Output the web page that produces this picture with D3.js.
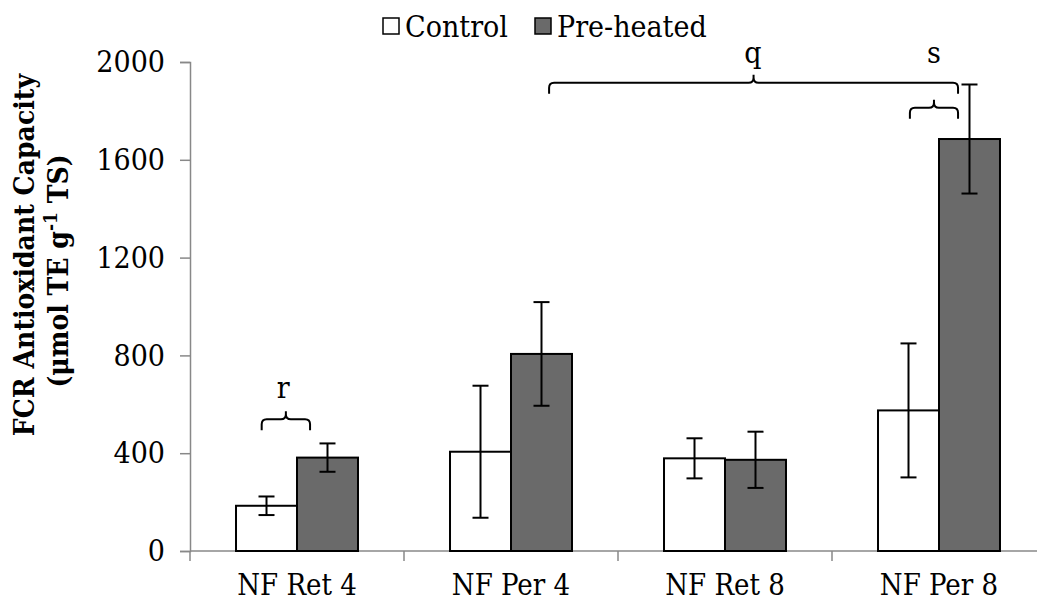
<!DOCTYPE html>
<html>
<head>
<meta charset="utf-8">
<script src="https://cdn.jsdelivr.net/npm/d3@7"></script>
<style>
  body { margin: 0; background: #fff; }
  text { font-family: "DejaVu Serif Condensed", "DejaVu Serif", serif; fill: #000; }
</style>
</head>
<body>
<svg id="chart"></svg>
<script>
// data
const categories = ["NF Ret 4", "NF Per 4", "NF Ret 8", "NF Per 8"];
const series = ["Control", "Pre-heated"];
const controlValues = [185, 406, 379, 575];
const controlErrors = [38, 270, 82, 274];
const preheatedValues = [382, 806, 373, 1685];
const preheatedErrors = [58, 212, 115, 223];
const yTicks = [0, 400, 800, 1200, 1600, 2000];
// significance brackets: x in category units, y in data units
const bracketLabels = ["r", "q", "s"];
const bracketFrom = [0.335, 1.678, 3.364];
const bracketTo = [0.561, 3.589, 3.589];
const bracketLevel = [539, 1915, 1813];

const width = 1037, height = 608;
const plotLeft = 190, plotBottom = 551, plotTop = 62;
const step = 214;
const fontSize = "30px";

const svg = d3.select("#chart").attr("width", width).attr("height", height);

const x0 = d3.scaleBand().domain(categories)
  .range([plotLeft, plotLeft + step * categories.length])
  .paddingInner(0.43).paddingOuter(0.215);
const x1 = d3.scaleBand().domain(series).range([0, x0.bandwidth()]);
const xPos = d3.scaleLinear().domain([0, categories.length]).range([plotLeft, plotLeft + step * categories.length]);
const y = d3.scaleLinear().domain([0, 2000]).range([plotBottom, plotTop]);

const colors = {"Control": "#ffffff", "Pre-heated": "#6a6a6a"};

let rows = [];
categories.forEach((c, i) => {
  rows.push({cat: c, s: "Control", v: controlValues[i], e: controlErrors[i]});
  rows.push({cat: c, s: "Pre-heated", v: preheatedValues[i], e: preheatedErrors[i]});
});

// axes
const yAxis = svg.append("g").attr("transform", `translate(${plotLeft},0)`)
  .call(d3.axisLeft(y).tickValues(yTicks).tickSize(10).tickPadding(15).tickFormat(d3.format("d")));
yAxis.select(".domain").attr("stroke", "#888").attr("stroke-width", 1.5);
yAxis.selectAll(".tick line").attr("stroke", "#888").attr("stroke-width", 1.5);
yAxis.selectAll(".tick text").style("font-size", fontSize)
  .style("font-family", "'DejaVu Serif Condensed', 'DejaVu Serif', serif");

svg.append("line")
  .attr("x1", plotLeft).attr("x2", width).attr("y1", plotBottom).attr("y2", plotBottom)
  .attr("stroke", "#888").attr("stroke-width", 1.5);
svg.selectAll(".xtick").data(d3.range(categories.length + 1)).enter().append("line")
  .attr("x1", d => xPos(d)).attr("x2", d => xPos(d))
  .attr("y1", plotBottom).attr("y2", plotBottom + 10)
  .attr("stroke", "#888").attr("stroke-width", 1.5);
svg.selectAll(".xlabel").data(categories).enter().append("text")
  .attr("x", d => x0(d) + x0.bandwidth() / 2)
  .attr("y", 595)
  .attr("text-anchor", "middle")
  .style("font-size", "29px")
  .text(d => d);

// bars
svg.selectAll(".bar").data(rows).enter().append("rect")
  .attr("x", d => x0(d.cat) + x1(d.s))
  .attr("y", d => y(d.v))
  .attr("width", x1.bandwidth())
  .attr("height", d => y(0) - y(d.v))
  .attr("fill", d => colors[d.s])
  .attr("stroke", "#000").attr("stroke-width", 2);

// error bars
let eb = svg.selectAll(".err").data(rows).enter().append("g");
eb.append("line")
  .attr("x1", d => x0(d.cat) + x1(d.s) + x1.bandwidth() / 2)
  .attr("x2", d => x0(d.cat) + x1(d.s) + x1.bandwidth() / 2)
  .attr("y1", d => y(d.v - d.e)).attr("y2", d => y(d.v + d.e));
[-1, 1].forEach(sign => {
  eb.append("line")
    .attr("x1", d => x0(d.cat) + x1(d.s) + x1.bandwidth() / 2 - 8)
    .attr("x2", d => x0(d.cat) + x1(d.s) + x1.bandwidth() / 2 + 8)
    .attr("y1", d => y(d.v + sign * d.e)).attr("y2", d => y(d.v + sign * d.e));
});
eb.selectAll("line").attr("stroke", "#000").attr("stroke-width", 2);

// brackets
bracketLabels.forEach((lab, i) => {
  const xa = xPos(bracketFrom[i]), xb = xPos(bracketTo[i]);
  const yy = y(bracketLevel[i]);
  const xm = (xa + xb) / 2;
  const r = 5;
  const p = d3.path();
  p.moveTo(xa, yy + 11);
  p.lineTo(xa, yy + r);
  p.quadraticCurveTo(xa, yy, xa + r, yy);
  p.lineTo(xm - r, yy);
  p.quadraticCurveTo(xm, yy, xm, yy - r);
  p.lineTo(xm, yy - 8);
  p.moveTo(xm, yy - r);
  p.quadraticCurveTo(xm, yy, xm + r, yy);
  p.lineTo(xb - r, yy);
  p.quadraticCurveTo(xb, yy, xb, yy + r);
  p.lineTo(xb, yy + 11);
  svg.append("path").attr("d", p.toString())
    .attr("fill", "none").attr("stroke", "#000").attr("stroke-width", 2);
});
svg.append("text").attr("x", xPos(0.435)).attr("y", 398).attr("text-anchor", "middle")
  .style("font-size", fontSize).text("r");
svg.append("text").attr("x", xPos(2.63)).attr("y", 63).attr("text-anchor", "middle")
  .style("font-size", fontSize).text("q");
svg.append("text").attr("x", xPos(3.476)).attr("y", 63).attr("text-anchor", "middle")
  .style("font-size", fontSize).text("s");

// y title
const yt = svg.append("text")
  .attr("transform", "translate(34,255) rotate(-90)")
  .attr("text-anchor", "middle")
  .style("font-size", "28px").style("font-weight", "bold");
yt.append("tspan").attr("x", 0).attr("dy", 0).text("FCR Antioxidant Capacity");
const l2 = yt.append("tspan").attr("x", -16).attr("dy", 34);
l2.text("(μmol TE g");
yt.append("tspan").attr("dy", -11).style("font-size", "19px").text("-1");
yt.append("tspan").attr("dy", 11).text(" TS)");

// legend
const legend = svg.append("g");
const legX = [383, 535];
series.forEach((s, i) => {
  legend.append("rect").attr("x", legX[i]).attr("y", 18).attr("width", 16).attr("height", 16)
    .attr("fill", colors[s]).attr("stroke", "#000").attr("stroke-width", 1.5);
  legend.append("text").attr("x", legX[i] + 22).attr("y", 37)
    .style("font-size", fontSize).text(s);
});
</script>
</body>
</html>
